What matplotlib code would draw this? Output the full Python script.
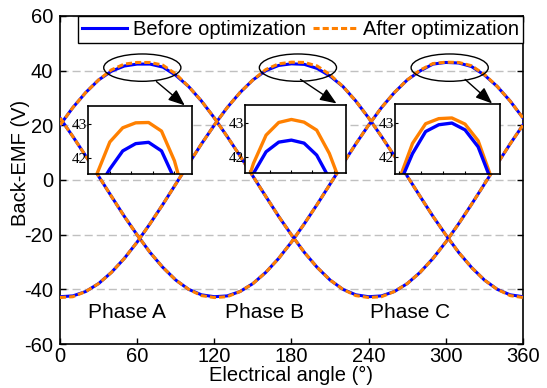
import numpy as np
import matplotlib.pyplot as plt
from matplotlib.patches import Ellipse

plt.rcParams['font.family'] = ['Liberation Sans', 'DejaVu Sans']
plt.rcParams['axes.unicode_minus'] = False

# electrical angle (deg), sampled every 10 deg
angle = list(range(0, 361, 10))

phase_a_before = [20.1, 26.5, 32.0, 36.6, 39.8, 41.7, 42.4, 42.4, 41.3, 38.3,
                  34.2, 28.9, 22.7, 15.9, 8.8, 1.4, -6.0, -13.3, -20.1, -26.5,
                  -32.0, -36.6, -40.0, -42.0, -42.7, -42.4, -40.8, -37.9, -33.8, -28.7,
                  -22.7, -16.0, -8.9, -1.5, 5.9, 13.2, 20.1]
phase_a_after = [20.1, 26.5, 32.0, 36.6, 40.3, 42.4, 43.0, 43.0, 42.0, 38.8,
                 34.2, 28.9, 22.7, 15.9, 8.8, 1.4, -6.0, -13.3, -20.1, -26.5,
                 -32.0, -36.6, -40.0, -42.3, -43.0, -42.7, -40.8, -37.9, -33.8, -28.7,
                 -22.7, -16.0, -8.9, -1.5, 5.9, 13.2, 20.1]
phase_b_before = [-42.7, -42.4, -40.8, -37.9, -33.8, -28.7, -22.7, -16.0, -8.9, -1.5,
                  5.9, 13.2, 20.1, 26.5, 32.0, 36.6, 40.0, 41.9, 42.5, 42.3,
                  40.8, 38.0, 34.2, 28.9, 22.7, 15.9, 8.8, 1.4, -6.0, -13.3,
                  -20.1, -26.5, -32.0, -36.6, -40.0, -42.0, -42.7]
phase_b_after = [-43.0, -42.7, -40.8, -37.9, -33.8, -28.7, -22.7, -16.0, -8.9, -1.5,
                 5.9, 13.2, 20.1, 26.5, 32.0, 36.6, 40.4, 42.5, 43.1, 43.0,
                 41.7, 38.5, 34.2, 28.9, 22.7, 15.9, 8.8, 1.4, -6.0, -13.3,
                 -20.1, -26.5, -32.0, -36.6, -40.0, -42.3, -43.0]
phase_c_before = [22.7, 15.9, 8.8, 1.4, -6.0, -13.3, -20.1, -26.5, -32.0, -36.6,
                  -40.0, -42.0, -42.7, -42.4, -40.8, -37.9, -33.8, -28.7, -22.7, -16.0,
                  -8.9, -1.5, 5.9, 13.2, 20.1, 26.5, 32.0, 36.6, 39.9, 42.4,
                  43.0, 42.8, 41.5, 38.4, 34.2, 28.9, 22.7]
phase_c_after = [22.7, 15.9, 8.8, 1.4, -6.0, -13.3, -20.1, -26.5, -32.0, -36.6,
                 -40.0, -42.3, -43.0, -42.7, -40.8, -37.9, -33.8, -28.7, -22.7, -16.0,
                 -8.9, -1.5, 5.9, 13.2, 20.1, 26.5, 32.0, 36.6, 40.2, 42.6,
                 43.1, 43.0, 41.8, 38.6, 34.2, 28.9, 22.7]

# zoomed peaks
inset_a_angle = [38, 44, 50, 56, 62, 68, 74, 80, 86, 92]
inset_a_before = [39.9, 41.0, 41.65, 42.2, 42.42, 42.46, 42.2, 41.35, 40.4, 38.9]
inset_a_after = [40.3, 41.5, 42.47, 42.9, 43.05, 43.06, 42.8, 41.9, 40.5, 39.0]
inset_b_angle = [156, 162, 168, 174, 180, 186, 192, 198, 204, 210]
inset_b_before = [40.3, 41.5, 42.15, 42.44, 42.5, 42.41, 42.05, 41.35, 40.5, 39.2]
inset_b_after = [40.6, 41.8, 42.65, 43.03, 43.12, 43.04, 42.8, 42.1, 41.1, 39.7]
inset_c_angle = [274, 280, 286, 292, 298, 304, 310, 316, 322, 328]
inset_c_before = [39.9, 41.2, 42.1, 42.75, 42.95, 43.0, 42.8, 42.3, 41.3, 39.9]
inset_c_after = [40.1, 41.35, 42.4, 42.98, 43.13, 43.15, 42.97, 42.48, 41.4, 40.0]

phase_names = ['Phase A', 'Phase B', 'Phase C']
phase_label_x = [52, 159, 272]

blue = '#0000FF'
orange = '#FF8000'

fig = plt.figure(figsize=(5.47, 3.88), dpi=100)
ax = fig.add_axes([0.1097, 0.1134, 0.8464, 0.8454])

for before, after in [(phase_a_before, phase_a_after),
                      (phase_b_before, phase_b_after),
                      (phase_c_before, phase_c_after)]:
    ax.plot(angle, before, color=blue, lw=2.2, zorder=3)
    ax.plot(angle, after, color=orange, lw=2.2, ls=(0, (2, 1)), zorder=4)

ax.set_xlim(0, 360)
ax.set_ylim(-60, 60)
ax.set_xticks(range(0, 361, 60))
ax.set_yticks(range(-60, 61, 20))
ax.tick_params(direction='in', labelsize=14.5, length=4, width=1, top=True, right=True)
ax.tick_params(axis='y', pad=5)
ax.tick_params(axis='x', pad=2)
for s in ax.spines.values():
    s.set_linewidth(1.2)
ax.yaxis.grid(True, ls=(0, (5.8, 2.9)), color='#c0c0c0', lw=1)
ax.set_axisbelow(True)
ax.set_xlabel('Electrical angle (°)', fontsize=14.5, labelpad=0)
ax.set_ylabel('Back-EMF (V)', fontsize=14.5)
ax.yaxis.set_label_coords(-0.064, 0.552)

for name, x in zip(phase_names, phase_label_x):
    ax.text(x, -48.3, name, fontsize=15, ha='center', va='center')

# legend handles
hb, = ax.plot([], [], color=blue, lw=2.2)
ha, = ax.plot([], [], color=orange, lw=2.2, ls=(0, (2, 1)))
leg = ax.legend([hb, ha], ['Before optimization', 'After optimization'], ncol=2,
                loc='upper right', bbox_to_anchor=(1, 1), borderaxespad=0,
                fontsize=14.5, handlelength=2.2, handletextpad=0.3, columnspacing=0.35,
                fancybox=False, edgecolor='k', framealpha=1, borderpad=0.2)
leg.get_frame().set_linewidth(1)

# ellipses around the peaks and arrows to the zoomed views
ellipse_x = [64, 185, 303]
arrow_start = [(75, 36), (187, 36.8), (315, 36.8)]
arrow_end = [(97, 27.3), (215, 28.0), (336, 28.0)]
for ex, p0, p1 in zip(ellipse_x, arrow_start, arrow_end):
    ax.add_patch(Ellipse((ex, 41.1), 60, 10, fill=False, ec='k', lw=1, zorder=6))
    ax.annotate('', xy=p1, xytext=p0, zorder=7,
                arrowprops=dict(arrowstyle='-|>,head_length=1.0,head_width=0.4',
                                color='k', lw=1, mutation_scale=10,
                                shrinkA=0, shrinkB=0))

inset_pos = [[0.1614, 0.5515, 0.189, 0.1745],
             [0.4479, 0.5530, 0.185, 0.1760],
             [0.7221, 0.5515, 0.192, 0.1795]]
inset_data = [(inset_a_angle, inset_a_before, inset_a_after, (40, 88)),
              (inset_b_angle, inset_b_before, inset_b_after, (158, 206)),
              (inset_c_angle, inset_c_before, inset_c_after, (278, 326))]
for pos, (x, before, after, xl) in zip(inset_pos, inset_data):
    axi = fig.add_axes(pos)
    axi.plot(x, after, color=orange, lw=2.4)
    axi.plot(x, before, color=blue, lw=2.4)
    axi.set_xlim(*xl)
    axi.set_ylim(41.5, 43.55)
    axi.set_xticks(range((xl[0] // 10 + 1) * 10, xl[1] + 1, 10))
    axi.set_xticklabels([])
    axi.set_yticks([42, 43])
    axi.tick_params(direction='in', length=2.5, width=0.8, pad=1)
    for lab in axi.get_yticklabels():
        lab.set_fontfamily('Liberation Serif')
        lab.set_fontsize(11)
    for s in axi.spines.values():
        s.set_linewidth(1.2)
    axi.set_zorder(8)

fig.savefig('out.png', dpi=100)
